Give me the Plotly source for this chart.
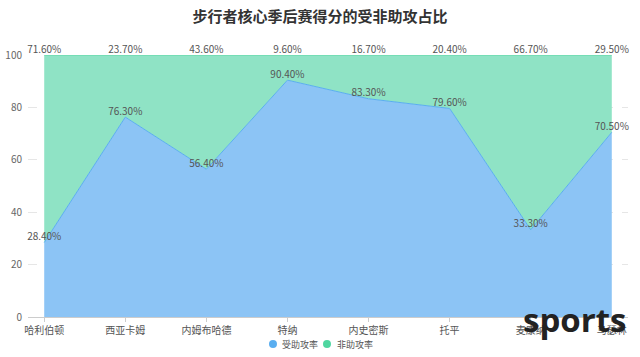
import plotly.graph_objects as go

players = ["哈利伯顿", "西亚卡姆", "内姆布哈德", "特纳", "内史密斯", "托平", "麦康纳", "马瑟林"]
assisted = [28.4, 76.3, 56.4, 90.4, 83.3, 79.6, 33.3, 70.5]
unassisted = [71.6, 23.7, 43.6, 9.6, 16.7, 20.4, 66.7, 29.5]
y_ticks = [0, 20, 40, 60, 80, 100]
series_names = ["受助攻率", "非助攻率"]
legend_colors = ["#5aaef0", "#4fd6a0"]

x_idx = list(range(len(players)))
cjk = "Noto Sans CJK SC"
blue_line = "#5aaef0"
green_line = "#5cd8a6"

fig = go.Figure()
fig.add_trace(go.Scatter(
    x=x_idx, y=assisted, name=series_names[0], stackgroup="one", mode="lines+text",
    line=dict(color=blue_line, width=1), fillcolor="rgb(140,196,245)",
    text=[f"{v:.2f}%" for v in assisted], textposition="top center",
    textfont=dict(family=cjk, size=10, color="#555"),
    cliponaxis=False, showlegend=False,
))
fig.add_trace(go.Scatter(
    x=x_idx, y=unassisted, name=series_names[1], stackgroup="one", mode="lines+text",
    line=dict(color=green_line, width=1), fillcolor="rgb(143,227,197)",
    text=[f"{v:.2f}%" for v in unassisted], textposition="top center",
    textfont=dict(family=cjk, size=10, color="#555"),
    cliponaxis=False, showlegend=False,
))

# manual legend (circle + label), positioned in paper coords
legend_circle_x = [0.4083, 0.4983]
legend_text_x = [0.42, 0.5117]
legend_y = -0.1031
for name, col, cx, tx in zip(series_names, legend_colors, legend_circle_x, legend_text_x):
    fig.add_shape(type="circle", xref="paper", yref="paper",
                  xsizemode="pixel", ysizemode="pixel", xanchor=cx, yanchor=legend_y,
                  x0=-4, x1=4, y0=-4, y1=4, fillcolor=col, line=dict(width=0))
    fig.add_annotation(text=name, xref="paper", yref="paper", x=tx, y=legend_y,
                       xanchor="left", yanchor="middle", showarrow=False,
                       font=dict(family=cjk, size=9, color="#555"))

fig.update_layout(
    width=640, height=357,
    margin=dict(l=28, r=12, t=55, b=40),
    paper_bgcolor="white", plot_bgcolor="white",
    title=dict(text="<b>步行者核心季后赛得分的受非助攻占比</b>", x=0.5, xanchor="center",
               yref="container", y=1 - 17 / 357, yanchor="middle",
               font=dict(family=cjk, size=15, color="#333")),
    font=dict(family=cjk, size=10, color="#555"),
    xaxis=dict(range=[-0.2, 7.2], tickmode="array", tickvals=x_idx, ticktext=players,
               showgrid=False, zeroline=False, showline=True, linecolor="#ccc",
               ticks="outside", ticklen=4, tickcolor="#ccc", automargin=False,
               tickfont=dict(family=cjk, size=10, color="#555")),
    yaxis=dict(range=[0, 100], tickmode="array", tickvals=y_ticks,
               showgrid=True, gridcolor="#e6e6e6", griddash="dash", zeroline=False,
               ticklabelstandoff=5, automargin=False,
               tickfont=dict(family=cjk, size=10, color="#666")),
    showlegend=False,
)
fig.add_annotation(text="<b>sports</b>", xref="paper", yref="paper", x=0.91, y=-0.0086,
                   xanchor="center", yanchor="middle", showarrow=False,
                   font=dict(family="Open Sans", size=33, color="#222"))

fig.write_html("out.html", config={"displayModeBar": False},
               post_script="document.body.style.margin='0';document.body.style.overflow='hidden';")
